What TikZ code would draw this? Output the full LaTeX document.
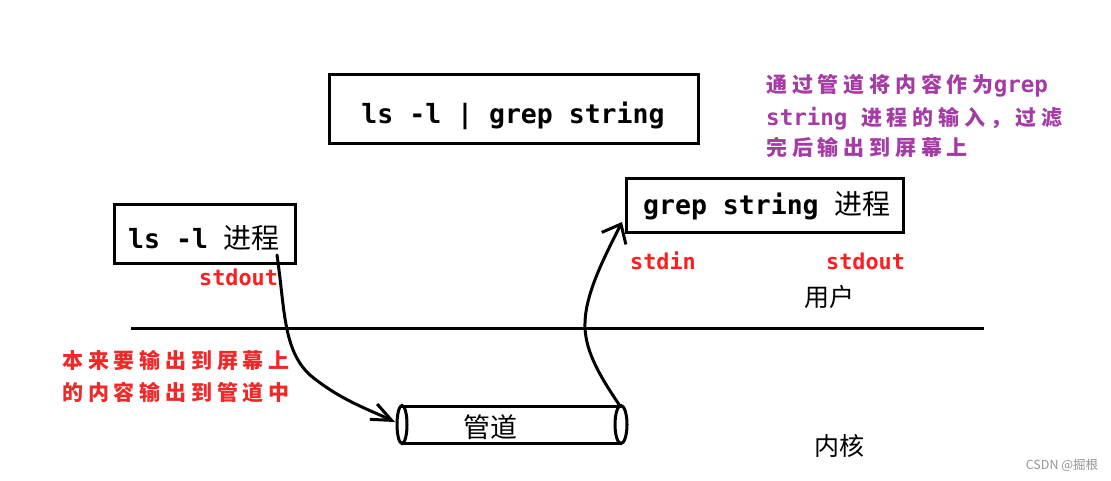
\documentclass[tikz,border=0pt]{standalone}
\usepackage{fontspec}
\setmainfont{DejaVu Sans}
\newfontfamily\monofnt{DejaVu Sans Mono}
\newfontfamily\cjkfnt{Noto Sans CJK SC}
\newfontfamily\cjksp{Noto Sans CJK SC}[LetterSpace=23]
\usetikzlibrary{arrows.meta}
\definecolor{labred}{RGB}{255,30,30}
\definecolor{notered}{RGB}{240,40,40}
\definecolor{notepurple}{RGB}{165,60,165}
\definecolor{wmgray}{RGB}{150,150,150}
\begin{document}
\begin{tikzpicture}[x=1pt,y=-1pt,
  box/.style={draw,line width=3pt,inner sep=0pt},
  thick3/.style={line width=3pt,line cap=round,line join=round},
  flow/.style={thick3,-{Straight Barb[length=#1]}},
  flow/.default={20pt,width=16pt},
  boxtxt/.style={inner sep=0pt,anchor=base west},
  lab/.style={inner sep=0pt,anchor=base west,text=labred,font=\monofnt\bfseries\fontsize{21.8}{24}\selectfont},
  zone/.style={inner sep=0pt,font=\cjkfnt\fontsize{25}{28}\selectfont},
  rednote/.style={inner sep=0pt,anchor=base west,text=notered,font=\cjksp\bfseries\fontsize{21}{24}\selectfont},
  purpnote/.style={inner sep=0pt,anchor=base west,text=notepurple,font=\cjksp\bfseries\fontsize{21}{24}\selectfont}
]
\useasboundingbox[fill=white] (0,0) rectangle (1111,480);

% top command box
\node[box,minimum width=369pt,minimum height=69pt] (cmdbox) at (514,109) {};
\node[inner sep=0pt,anchor=base,font=\monofnt\bfseries\fontsize{26.5}{30}\selectfont] (cmdtxt) at (513,123) {ls -l | grep string};

% ls process box
\node[box,minimum width=181pt,minimum height=59pt] (lsbox) at (205,234) {};
\node[boxtxt] (lstxt) at (128,248) {{\monofnt\bfseries\fontsize{26.5}{30}\selectfont ls -l }{\cjkfnt\fontsize{28}{30}\selectfont 进程}};
\node[lab] (lsout) at (199,285) {stdout};

% grep process box
\node[box,minimum width=277pt,minimum height=54pt] (grepbox) at (765,205.5) {};
\node[boxtxt] (greptxt) at (643,214) {{\monofnt\bfseries\fontsize{26.5}{30}\selectfont grep string }{\cjkfnt\fontsize{28}{30}\selectfont 进程}};
\node[lab] (grepin) at (630,269) {stdin};
\node[lab] (grepout) at (826,269) {stdout};

% purple note
\node[purpnote] (p1) at (766,92.5) {通过管道将内容作为{\monofnt\bfseries\fontsize{22.5}{24}\selectfont grep}};
\node[purpnote] (p2) at (766,125) {{\monofnt\bfseries\fontsize{22.5}{24}\selectfont string }进程的输入，过滤};
\node[purpnote] (p3) at (766,155) {完后输出到屏幕上};

% user / kernel divider
\coordinate (divL) at (131,328);
\coordinate (divR) at (984,328);
\draw[line width=3pt] (divL) -- (divR);
\node[zone] (user) at (829,297) {用户};
\node[zone] (kernel) at (839,446) {内核};

% red note
\node[rednote] (r1) at (62,368) {本来要输出到屏幕上};
\node[rednote] (r2) at (62,400) {的内容输出到管道中};

% pipe
\coordinate (pipeL) at (402,424.5);
\coordinate (pipeR) at (621,424.5);
\draw[thick3] (402,406) -- (621,406);
\draw[thick3] (402,443) -- (621,443);
\draw[line width=3pt] (pipeL) ellipse [x radius=5pt, y radius=19pt];
\draw[line width=3pt] (pipeR) ellipse [x radius=6pt, y radius=19pt];
\node[zone,font=\cjkfnt\fontsize{27}{30}\selectfont] (pipetxt) at (490,427) {管道};

% connectors
\coordinate (lsstart) at (277,255);
\coordinate (pipein) at (395,422);
\coordinate (pipeout) at (620,406);
\coordinate (grepin2) at (622,222);
\draw[flow={20pt,width=17pt}] (lsstart) .. controls (285,310) and (283,350) .. (310,375)
      .. controls (340,400) and (370,410) .. (pipein);
\draw[flow={16pt,width=27pt}] (pipeout) .. controls (597,372) and (584,348) .. (585,322)
      .. controls (586,292) and (605,256) .. (grepin2);

% watermark
\node[inner sep=0pt,text=wmgray,font=\cjkfnt\fontsize{12.5}{14}\selectfont] (wm) at (1062,465) {CSDN @掘根};
\end{tikzpicture}
\end{document}
